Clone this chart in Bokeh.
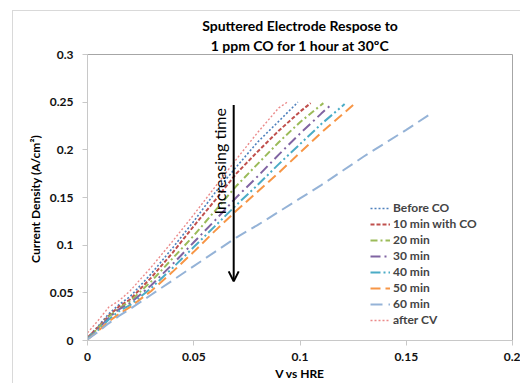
import math
from bokeh.plotting import figure
from bokeh.models import (Range1d, FixedTicker, NumeralTickFormatter, Label, Arrow,
                          OpenHead, Legend, LegendItem, Title, InlineStyleSheet)
from bokeh.embed import file_html
from bokeh.resources import INLINE

# ---------------- data ----------------
series_names = ["Before CO", "10 min with CO", "20 min", "30 min", "40 min",
                "50 min", "60 min", "after CV"]

x_before = [0, 0.005, 0.01, 0.015, 0.02, 0.03, 0.04, 0.05, 0.06, 0.07, 0.08, 0.09, 0.099]
y_before = [0.003, 0.015, 0.028, 0.038, 0.046, 0.07, 0.097, 0.125, 0.155, 0.182, 0.208, 0.23, 0.25]

x_10 = [0, 0.005, 0.01, 0.015, 0.02, 0.03, 0.04, 0.05, 0.06, 0.07, 0.08, 0.09, 0.1, 0.105]
y_10 = [0.003, 0.014, 0.026, 0.036, 0.043, 0.066, 0.092, 0.12, 0.147, 0.175, 0.198, 0.22, 0.24, 0.249]

x_20 = [0, 0.005, 0.01, 0.015, 0.02, 0.03, 0.04, 0.05, 0.06, 0.07, 0.08, 0.09, 0.1, 0.111]
y_20 = [0.002, 0.013, 0.025, 0.034, 0.041, 0.062, 0.086, 0.11, 0.136, 0.162, 0.185, 0.208, 0.229, 0.249]

x_30 = [0, 0.005, 0.01, 0.015, 0.02, 0.03, 0.04, 0.05, 0.06, 0.07, 0.08, 0.09, 0.1, 0.11, 0.115]
y_30 = [0.002, 0.012, 0.024, 0.033, 0.039, 0.058, 0.08, 0.103, 0.126, 0.15, 0.172, 0.195, 0.217, 0.238, 0.248]

x_40 = [0, 0.005, 0.01, 0.015, 0.02, 0.03, 0.04, 0.05, 0.06, 0.07, 0.08, 0.09, 0.1, 0.11, 0.121]
y_40 = [0.002, 0.011, 0.022, 0.031, 0.037, 0.055, 0.076, 0.098, 0.12, 0.142, 0.163, 0.185, 0.206, 0.227, 0.248]

x_50 = [0, 0.005, 0.01, 0.015, 0.02, 0.03, 0.04, 0.05, 0.06, 0.07, 0.08, 0.09, 0.1, 0.11, 0.125]
y_50 = [0.001, 0.01, 0.02, 0.028, 0.035, 0.052, 0.072, 0.093, 0.115, 0.136, 0.156, 0.176, 0.197, 0.218, 0.247]

x_60 = [0, 0.005, 0.01, 0.015, 0.02, 0.03, 0.04, 0.05, 0.06, 0.07, 0.08, 0.09, 0.1,
        0.11, 0.12, 0.13, 0.14, 0.15, 0.161]
y_60 = [0.001, 0.009, 0.018, 0.026, 0.033, 0.048, 0.063, 0.078, 0.093, 0.108, 0.121, 0.135, 0.149,
        0.163, 0.178, 0.193, 0.207, 0.221, 0.237]

x_after = [0, 0.005, 0.01, 0.015, 0.02, 0.03, 0.04, 0.05, 0.06, 0.07, 0.08, 0.09, 0.094]
y_after = [0.008, 0.021, 0.035, 0.042, 0.052, 0.077, 0.104, 0.132, 0.161, 0.19, 0.218, 0.244, 0.25]

xs = [x_before, x_10, x_20, x_30, x_40, x_50, x_60, x_after]
ys = [y_before, y_10, y_20, y_30, y_40, y_50, y_60, y_after]

x_ticks = [0, 0.05, 0.1, 0.15, 0.2]
y_ticks = [0, 0.05, 0.1, 0.15, 0.2, 0.25, 0.3]

title_lines = ["Sputtered Electrode Respose to", "1 ppm CO for 1 hour at 30\u00baC"]
x_label = "V vs HRE"
y_label = "Current Density  (A/cm\u00b2)"
arrow_text = "Increasing time"
arrow_x = 0.0688
arrow_y_top = 0.247
arrow_y_tip = 0.062

# ---------------- styles ----------------
colors = ["#4F81BD", "#C0504D", "#9BBB59", "#8064A2", "#4BACC6", "#F79646", "#95B3D7", "#EB8A8A"]
dashes = ["2 2", "4 2", "7 3 2 3", "10 4 2 4", "10 3 2 3 2 3", "10 5", "12 6", "2 2"]
widths = [1.6, 2, 2, 2, 2, 2, 2, 1.4]
FONT = "Lato"

p = figure(width=520, height=383, output_backend="svg", toolbar_location=None,
           x_range=Range1d(0, 0.2), y_range=Range1d(0, 0.3),
           min_border_left=87, min_border_right=8, min_border_top=54, min_border_bottom=43)
p.xgrid.visible = False
p.ygrid.visible = False
p.outline_line_color = "#A6A6A6"
p.outline_line_width = 1
p.background_fill_color = "white"
p.border_fill_color = "white"
p.stylesheets = [InlineStyleSheet(css=(
    ":host::after{content:'';position:absolute;left:12px;top:10px;right:0;bottom:0;"
    "border-left:1px solid #D9D9D9;border-top:1px solid #D9D9D9;pointer-events:none;}"))]

for ax, ticks in ((p.xaxis[0], x_ticks), (p.yaxis[0], y_ticks)):
    ax.ticker = FixedTicker(ticks=ticks)
    ax.formatter = NumeralTickFormatter(format="0.[00]")
    ax.axis_line_color = "#C8C8C8"
    ax.major_tick_line_color = "#C8C8C8"
    ax.minor_tick_line_color = None
    ax.major_tick_in = 0
    ax.major_tick_out = 5
    ax.major_label_text_font = FONT
    ax.major_label_text_font_style = "bold"
    ax.major_label_text_font_size = "12px"
    ax.major_label_text_color = "#111111"
p.yaxis[0].major_label_standoff = 9
p.xaxis[0].major_label_standoff = 7

renderers = []
for x, y, c, d, w in zip(xs, ys, colors, dashes, widths):
    r = p.line(x, y, line_color=c, line_dash=d, line_width=w)
    renderers.append(r)

legend = Legend(items=[LegendItem(label=n, renderers=[r]) for n, r in zip(series_names, renderers)],
                location=(283, 13), padding=0, margin=0, spacing=1,
                glyph_width=20, glyph_height=14, label_height=14, label_standoff=3,
                border_line_color=None, background_fill_alpha=0,
                label_text_font=FONT, label_text_font_style="bold", label_text_font_size="12px")
p.add_layout(legend)

# arrow + text
p.add_layout(Arrow(x_start=arrow_x, y_start=arrow_y_top, x_end=arrow_x, y_end=arrow_y_tip,
                   line_width=2, line_color="black",
                   end=OpenHead(size=10, line_width=2, line_color="black")))
p.add_layout(Label(x=arrow_x, y=0.188, text=arrow_text, angle=math.pi / 2,
                   text_align="center", text_baseline="bottom", x_offset=-5,
                   text_font=FONT, text_font_size="16px", text_color="black"))

# title lines (closest to the frame first)
p.add_layout(Title(text=title_lines[1], align="center", offset=-2, standoff=2,
                   text_font=FONT, text_font_style="bold", text_font_size="14px",
                   text_color="black"), "above")
p.add_layout(Title(text=title_lines[0], align="center", offset=-2, standoff=0,
                   text_font=FONT, text_font_style="bold", text_font_size="14px",
                   text_color="black"), "above")

p.add_layout(Title(text=x_label, align="center", offset=-31, standoff=0,
                   text_font=FONT, text_font_style="bold", text_font_size="12px",
                   text_color="black"), "below")
p.add_layout(Title(text=y_label, align="center", offset=30, standoff=7,
                   text_font=FONT, text_font_style="bold", text_font_size="12px",
                   text_color="black"), "left")

open("out.html", "w").write(file_html(p, INLINE))
